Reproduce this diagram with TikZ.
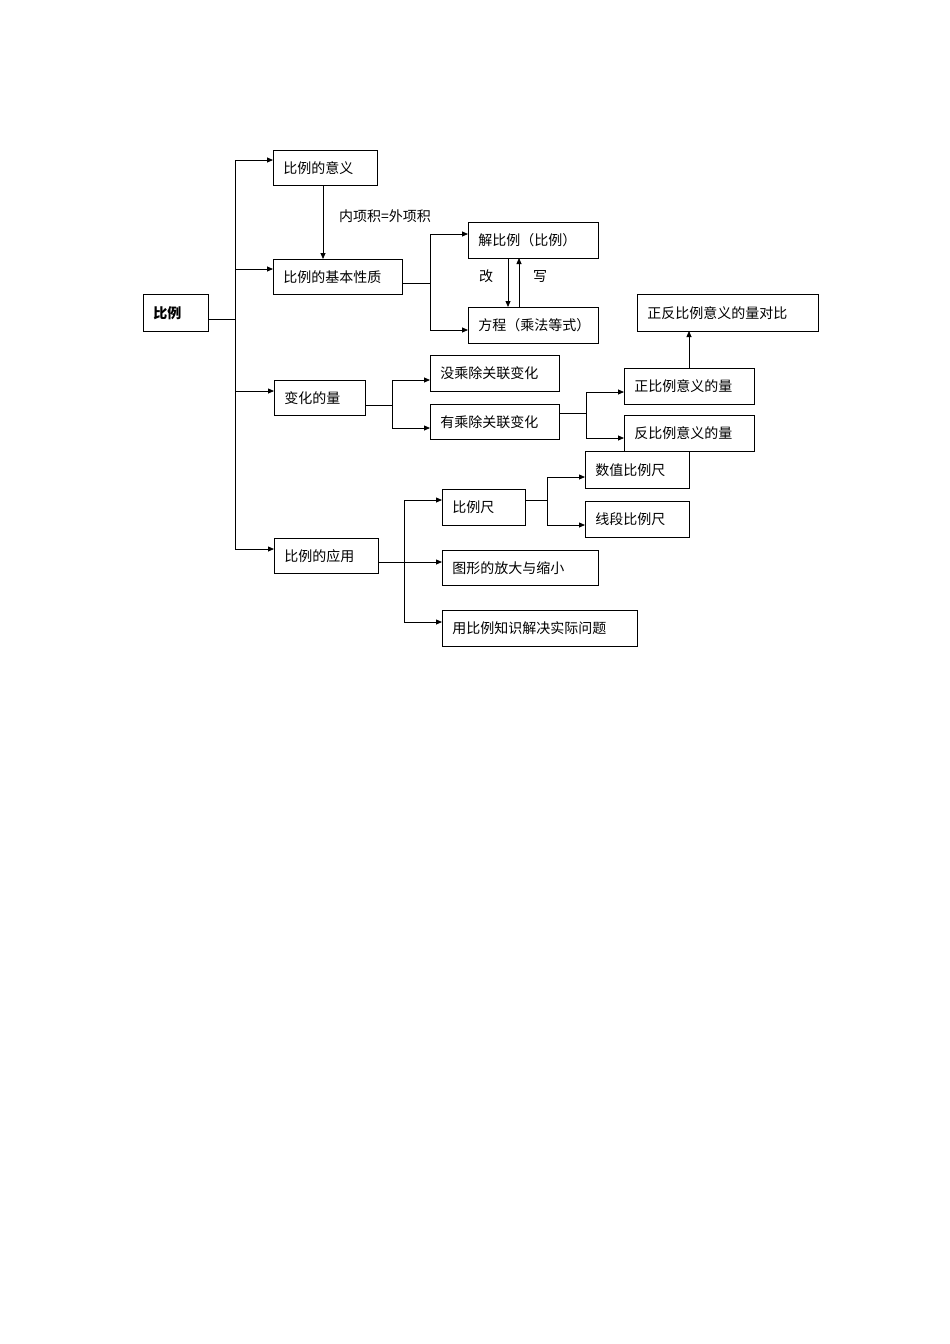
\documentclass[tikz,border=0pt]{standalone}
\usepackage{fontspec}
\setmainfont{Noto Sans CJK SC}
\usetikzlibrary{arrows.meta}
\begin{document}
\begin{tikzpicture}[x=1pt,y=-1pt,
  bx/.style={draw,line width=0.8pt,anchor=north west,inner xsep=10pt,inner ysep=0pt,align=left,font=\fontsize{14}{16}\selectfont},
  ar/.style={line width=0.8pt,-{Triangle[length=6pt,width=5pt]}},
  ln/.style={line width=0.8pt}]
\useasboundingbox (0,0) rectangle (950,1344);
\newcommand\bb[6]{\node[bx,minimum height={#5-#3},text width={#4-#2-20}] (#1) at (#2,#3) {#6};}
\bb{root}{143}{294}{208}{331}{\textbf{比例}}
\bb{yiyi}{273}{150}{377}{185}{比例的意义}
\bb{xz}{273}{259}{402}{294}{比例的基本性质}
\bb{bh}{274}{380}{365}{415}{变化的量}
\bb{yy}{274}{538}{378}{573}{比例的应用}
\bb{jbl}{468}{222}{598}{258}{解比例（比例）}
\bb{fc}{468}{307}{598}{343}{方程（乘法等式）}
\bb{mei}{430}{355}{559}{391}{没乘除关联变化}
\bb{you}{430}{404}{559}{439}{有乘除关联变化}
\bb{db}{637}{294}{818}{331}{正反比例意义的量对比}
\bb{zb}{624}{368}{754}{404}{正比例意义的量}
\bb{fb}{624}{415}{754}{451}{反比例意义的量}
\bb{sz}{585}{451}{689}{488}{数值比例尺}
\bb{blc}{442}{489}{525}{525}{比例尺}
\bb{xd}{585}{501}{689}{537}{线段比例尺}
\bb{tx}{442}{550}{598}{585}{图形的放大与缩小}
\bb{jj}{442}{610}{637}{646}{用比例知识解决实际问题}
% trunk
\coordinate (t0) at (235,319);
\draw[ln] (root.east|-t0) -- (t0);
\draw[ln] (235,160) -- (235,549);
\draw[ar] (235,160) -- (yiyi.west|-0,160);
\draw[ar] (235,269) -- (xz.west|-0,269);
\draw[ar] (235,391) -- (bh.west|-0,391);
\draw[ar] (235,549) -- (yy.west|-0,549);
\draw[ar] (323,185) -- (323,259);
\node[font=\fontsize{14}{16}\selectfont] (l1) at (385,216) {内项积=外项积};
% xz
\draw[ln] (xz.east|-0,283) -- (430,283);
\draw[ln] (430,234) -- (430,330);
\draw[ar] (430,234) -- (jbl.west|-0,234);
\draw[ar] (430,330) -- (fc.west|-0,330);
\draw[ar] (508,258) -- (508,307);
\draw[ar] (519,307) -- (519,258);
\node[font=\fontsize{14}{16}\selectfont] (l2) at (486,276) {改};
\node[font=\fontsize{14}{16}\selectfont] (l3) at (540,276) {写};
% bh
\draw[ln] (bh.east|-0,405) -- (392,405);
\draw[ln] (392,380) -- (392,428);
\draw[ar] (392,380) -- (mei.west|-0,380);
\draw[ar] (392,428) -- (you.west|-0,428);
\draw[ln] (you.east|-0,413) -- (586,413);
\draw[ln] (586,392) -- (586,438);
\draw[ar] (586,392) -- (zb.west|-0,392);
\draw[ar] (586,438) -- (fb.west|-0,438);
\draw[ar] (689,368) -- (689,331);
% yy
\draw[ln] (yy.east|-0,562) -- (404,562);
\draw[ln] (404,500) -- (404,622);
\draw[ar] (404,500) -- (blc.west|-0,500);
\draw[ar] (404,562) -- (tx.west|-0,562);
\draw[ar] (404,622) -- (jj.west|-0,622);
\draw[ln] (blc.east|-0,500) -- (547,500);
\draw[ln] (547,477) -- (547,525);
\draw[ar] (547,477) -- (sz.west|-0,477);
\draw[ar] (547,525) -- (xd.west|-0,525);
\end{tikzpicture}
\end{document}
